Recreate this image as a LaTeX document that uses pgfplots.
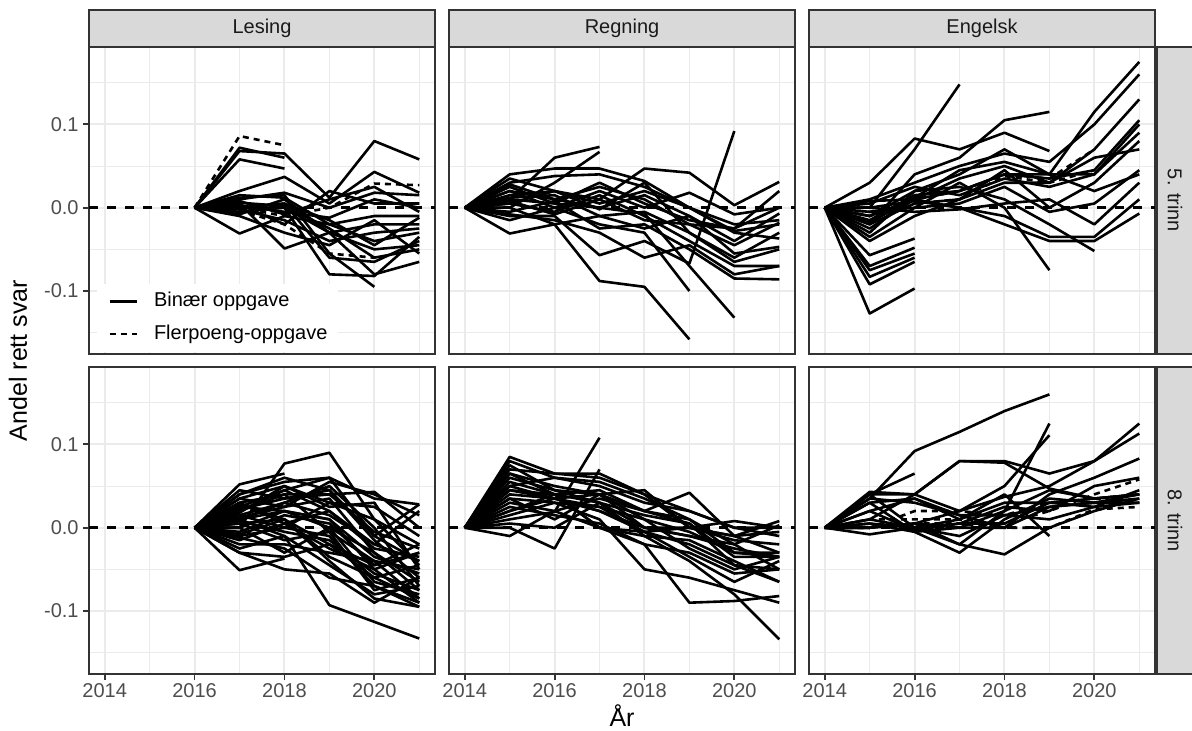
\documentclass[border=0pt]{standalone}
\usepackage{fontspec}
\setmainfont{Liberation Sans}
\usepackage{pgfplots}
\pgfplotsset{compat=1.18}
\definecolor{gridc}{HTML}{EBEBEB}
\definecolor{bordc}{HTML}{333333}
\definecolor{stripc}{HTML}{D9D9D9}
\definecolor{tickc}{HTML}{4D4D4D}
\definecolor{stript}{HTML}{1A1A1A}
\newcommand{\fs}[1]{\fontsize{#1}{#1}\selectfont}
\pgfplotsset{
  sl/.style={black, line width=1.3pt, forget plot, line join=round},
  dl/.style={sl, dash pattern=on 3pt off 2.5pt},
  zl/.style={black, line width=1.3pt, forget plot, dash pattern=on 4.5pt off 4.5pt},
  panel/.style={
    scale only axis, width=173pt, height=153.5pt, anchor=north west,
    xmin=2013.65, xmax=2021.35, ymin=-0.1756, ymax=0.1929,
    xtick={2014,2016,2018,2020}, minor xtick={2015,2017,2019,2021},
    ytick={-0.1,0,0.1}, minor ytick={-0.15,-0.05,0.05,0.15},
    xticklabels={}, yticklabels={},
    grid=both,
    major grid style={draw=gridc, line width=1pt},
    minor grid style={draw=gridc, line width=0.5pt},
    axis line style={draw=bordc, line width=0.9pt},
    tick align=outside, major tick length=3pt, minor tick length=0pt,
    tick style={draw=bordc, line width=0.9pt},
    tick pos=left,
    xtick style={draw=none}, ytick style={draw=none},
    xticklabel style={anchor=north, inner sep=0pt, font=\fs{10}, text=tickc, yshift=-1.5pt},
    yticklabel style={anchor=east, inner sep=0pt, font=\fs{10}, text=tickc, xshift=-2pt},
    clip=true,
  },
  leftcol/.style={yticklabels={-0.1,0.0,0.1}, ytick style={draw=bordc, line width=0.9pt}},
  botrow/.style={xticklabels={2014,2016,2018,2020}, xtick style={draw=bordc, line width=0.9pt}},
}
\begin{document}
\begin{tikzpicture}
% ---------------- Lesing, 5. trinn
\begin{axis}[panel, leftcol, at={(44.5pt,-23.5pt)},
  legend style={at={(0,0)}, anchor=south west, xshift=4pt, yshift=1pt, draw=none, fill=white,
    font=\fs{10}, inner xsep=5.5pt, inner ysep=4pt, row sep=7pt,
    nodes={inner sep=0pt, text height=7.3pt, text depth=2.1pt}},
  legend cell align=left,
  legend image code/.code={\draw[#1] (0pt,0pt) -- (13.5pt,0pt); \path (21.5pt,0pt);}]
\addplot[zl] coordinates {(2013.65,0)(2021.35,0)};
\addplot[sl] coordinates {(2016,0)(2017,0.072)(2018,0.060)};
\addplot[sl] coordinates {(2016,0)(2017,0.068)(2018,0.065)(2019,0.012)(2020,0.080)(2021,0.058)};
\addplot[sl] coordinates {(2016,0)(2017,0.058)(2018,0.047)};
\addplot[sl] coordinates {(2016,0)(2017,0.020)(2018,0.037)(2019,0.005)(2020,0.043)(2021,0.018)};
\addplot[sl] coordinates {(2016,0)(2017,-0.031)(2018,-0.010)(2019,-0.020)(2020,-0.040)(2021,-0.030)};
\addplot[sl] coordinates {(2016,0)(2017,0.005)(2018,-0.049)(2019,-0.030)(2020,-0.050)(2021,-0.045)};
\addplot[sl] coordinates {(2016,0)(2017,0.012)(2018,0.015)(2019,-0.055)(2020,-0.095)};
\addplot[sl] coordinates {(2016,0)(2017,0.000)(2018,0.005)(2019,-0.060)(2020,-0.065)(2021,-0.040)};
\addplot[sl] coordinates {(2016,0)(2017,-0.005)(2018,0.000)(2019,-0.030)(2020,-0.080)(2021,-0.065)};
\addplot[sl] coordinates {(2016,0)(2017,0.010)(2018,0.018)(2019,0.000)(2020,0.018)(2021,0.015)};
\addplot[sl] coordinates {(2016,0)(2017,0.003)(2018,-0.005)(2019,-0.012)(2020,0.010)(2021,0.000)};
\addplot[sl] coordinates {(2016,0)(2017,-0.008)(2018,0.010)(2019,-0.030)(2020,-0.020)(2021,-0.020)};
\addplot[sl] coordinates {(2016,0)(2017,0.015)(2018,0.012)(2019,-0.020)(2020,-0.010)(2021,-0.010)};
\addplot[sl] coordinates {(2016,0)(2017,-0.002)(2018,-0.015)(2019,-0.040)(2020,-0.030)(2021,-0.025)};
\addplot[sl] coordinates {(2016,0)(2017,0.006)(2018,0.002)(2019,-0.025)(2020,-0.060)(2021,-0.050)};
\addplot[sl] coordinates {(2016,0)(2017,0.000)(2018,0.000)(2019,-0.080)(2020,-0.082)(2021,-0.035)};
\addplot[sl] coordinates {(2016,0)(2017,0.004)(2018,-0.020)(2019,0.020)(2020,0.005)(2021,0.005)};
\addplot[sl] coordinates {(2016,0)(2017,-0.010)(2018,-0.030)(2019,-0.045)(2020,-0.015)(2021,-0.055)};
\addplot[sl] coordinates {(2016,0)(2017,0.000)(2018,0.005)(2019,-0.015)(2020,-0.045)(2021,-0.012)};
\addplot[sl] coordinates {(2016,0)(2017,0.008)(2018,-0.008)(2019,0.010)(2020,0.025)(2021,-0.005)};
\addplot[dl] coordinates {(2016,0)(2017,0.086)(2018,0.075)};
\addplot[dl] coordinates {(2016,0)(2017,-0.003)(2018,-0.020)(2019,-0.055)(2020,-0.060)};
\addplot[dl] coordinates {(2016,0)(2017,0.000)(2018,-0.010)(2019,0.000)(2020,0.029)(2021,0.027)};
\addlegendimage{black, line width=1.3pt}
\addlegendentry{Binær oppgave}
\addlegendimage{black, line width=1.3pt, dash pattern=on 3pt off 2.5pt}
\addlegendentry{Flerpoeng-oppgave}
\end{axis}
% ---------------- Regning, 5. trinn
\begin{axis}[panel, at={(224.5pt,-23.5pt)}]
\addplot[zl] coordinates {(2013.65,0)(2021.35,0)};
\addplot[sl] coordinates {(2014,0)(2015,0.010)(2016,0.060)(2017,0.073)};
\addplot[sl] coordinates {(2014,0)(2015,0.000)(2016,0.030)(2017,0.067)};
\addplot[sl] coordinates {(2014,0)(2015,0.040)(2016,0.047)(2017,0.047)(2018,0.032)(2019,0.000)(2020,-0.020)(2021,-0.015)};
\addplot[sl] coordinates {(2014,0)(2015,0.035)(2016,0.020)(2017,0.010)(2018,0.047)(2019,0.042)(2020,0.003)(2021,0.031)};
\addplot[sl] coordinates {(2014,0)(2015,-0.031)(2016,-0.020)(2017,-0.010)(2018,-0.005)(2019,-0.030)(2020,-0.065)(2021,-0.050)};
\addplot[sl] coordinates {(2014,0)(2015,0.000)(2016,-0.020)(2017,-0.088)(2018,-0.095)(2019,-0.158)};
\addplot[sl] coordinates {(2014,0)(2015,0.020)(2016,0.000)(2017,-0.020)(2018,-0.030)(2019,-0.100)};
\addplot[sl] coordinates {(2014,0)(2015,0.010)(2016,0.005)(2017,0.000)(2018,-0.007)(2019,-0.070)(2020,-0.132)};
\addplot[sl] coordinates {(2014,0)(2015,-0.010)(2016,-0.010)(2017,-0.057)(2018,-0.040)(2019,-0.067)(2020,0.092)};
\addplot[sl] coordinates {(2014,0)(2015,0.028)(2016,0.010)(2017,0.025)(2018,0.010)(2019,-0.020)(2020,-0.025)(2021,0.000)};
\addplot[sl] coordinates {(2014,0)(2015,0.015)(2016,0.020)(2017,0.005)(2018,0.020)(2019,0.000)(2020,-0.028)(2021,-0.020)};
\addplot[sl] coordinates {(2014,0)(2015,0.005)(2016,-0.005)(2017,0.015)(2018,-0.010)(2019,-0.040)(2020,-0.070)(2021,-0.070)};
\addplot[sl] coordinates {(2014,0)(2015,-0.005)(2016,0.008)(2017,-0.025)(2018,-0.020)(2019,-0.050)(2020,-0.085)(2021,-0.086)};
\addplot[sl] coordinates {(2014,0)(2015,0.030)(2016,0.038)(2017,0.040)(2018,0.025)(2019,0.000)(2020,-0.030)(2021,-0.037)};
\addplot[sl] coordinates {(2014,0)(2015,0.020)(2016,0.010)(2017,0.000)(2018,0.015)(2019,-0.010)(2020,-0.040)(2021,-0.007)};
\addplot[sl] coordinates {(2014,0)(2015,-0.015)(2016,0.000)(2017,0.020)(2018,0.000)(2019,0.018)(2020,-0.008)(2021,0.000)};
\addplot[sl] coordinates {(2014,0)(2015,0.012)(2016,0.015)(2017,-0.010)(2018,-0.025)(2019,-0.010)(2020,-0.055)(2021,-0.047)};
\addplot[sl] coordinates {(2014,0)(2015,-0.008)(2016,-0.015)(2017,-0.030)(2018,-0.060)(2019,-0.045)(2020,-0.080)(2021,-0.070)};
\addplot[sl] coordinates {(2014,0)(2015,0.025)(2016,0.005)(2017,0.030)(2018,0.005)(2019,-0.015)(2020,-0.025)(2021,0.020)};
\addplot[sl] coordinates {(2014,0)(2015,0.008)(2016,-0.008)(2017,0.010)(2018,-0.015)(2019,-0.020)(2020,-0.045)(2021,-0.018)};
\addplot[sl] coordinates {(2014,0)(2015,0.005)(2016,0.020)(2017,-0.002)(2018,0.030)(2019,-0.030)(2020,-0.060)(2021,-0.030)};
\end{axis}
% ---------------- Engelsk, 5. trinn
\begin{axis}[panel, at={(404.5pt,-23.5pt)}]
\addplot[zl] coordinates {(2013.65,0)(2021.35,0)};
\addplot[sl] coordinates {(2014,0)(2015,-0.127)(2016,-0.097)};
\addplot[sl] coordinates {(2014,0)(2015,-0.092)(2016,-0.065)};
\addplot[sl] coordinates {(2014,0)(2015,-0.075)(2016,-0.055)};
\addplot[sl] coordinates {(2014,0)(2015,-0.083)(2016,-0.060)};
\addplot[sl] coordinates {(2014,0)(2015,-0.057)(2016,-0.037)};
\addplot[sl] coordinates {(2014,0)(2015,-0.070)(2016,-0.048)};
\addplot[sl] coordinates {(2014,0)(2015,0.000)(2016,0.070)(2017,0.148)};
\addplot[sl] coordinates {(2014,0)(2015,0.030)(2016,0.083)(2017,0.070)(2018,0.090)(2019,0.068)};
\addplot[sl] coordinates {(2014,0)(2015,-0.020)(2016,0.040)(2017,0.060)(2018,0.105)(2019,0.115)};
\addplot[sl] coordinates {(2014,0)(2015,-0.035)(2016,0.000)(2017,0.030)(2018,0.000)(2019,-0.075)};
\addplot[sl] coordinates {(2014,0)(2015,-0.030)(2016,0.020)(2017,0.040)(2018,0.070)(2019,0.040)(2020,0.115)(2021,0.175)};
\addplot[sl] coordinates {(2014,0)(2015,0.010)(2016,0.030)(2017,0.050)(2018,0.065)(2019,0.055)(2020,0.100)(2021,0.160)};
\addplot[sl] coordinates {(2014,0)(2015,-0.010)(2016,0.010)(2017,0.035)(2018,0.050)(2019,0.030)(2020,0.070)(2021,0.130)};
\addplot[sl] coordinates {(2014,0)(2015,-0.015)(2016,0.015)(2017,0.020)(2018,0.040)(2019,0.035)(2020,0.045)(2021,0.105)};
\addplot[sl] coordinates {(2014,0)(2015,0.005)(2016,0.025)(2017,0.015)(2018,0.035)(2019,0.025)(2020,0.040)(2021,0.090)};
\addplot[sl] coordinates {(2014,0)(2015,-0.020)(2016,0.005)(2017,0.010)(2018,0.045)(2019,0.000)(2020,0.030)(2021,0.080)};
\addplot[sl] coordinates {(2014,0)(2015,-0.005)(2016,0.000)(2017,0.005)(2018,0.025)(2019,-0.005)(2020,0.005)(2021,0.045)};
\addplot[sl] coordinates {(2014,0)(2015,-0.025)(2016,0.010)(2017,0.000)(2018,-0.010)(2019,-0.035)(2020,-0.035)(2021,0.010)};
\addplot[sl] coordinates {(2014,0)(2015,0.000)(2016,0.008)(2017,0.000)(2018,-0.020)(2019,-0.040)(2020,-0.040)(2021,-0.007)};
\addplot[sl] coordinates {(2014,0)(2015,-0.010)(2016,0.020)(2017,0.025)(2018,0.010)(2019,-0.020)(2020,-0.052)};
\addplot[sl] coordinates {(2014,0)(2015,0.008)(2016,0.010)(2017,0.020)(2018,0.040)(2019,0.040)(2020,0.040)(2021,0.100)};
\addplot[sl] coordinates {(2014,0)(2015,-0.040)(2016,-0.010)(2017,0.010)(2018,0.030)(2019,0.030)(2020,0.060)(2021,0.070)};
\addplot[sl] coordinates {(2014,0)(2015,-0.018)(2016,0.012)(2017,0.045)(2018,0.055)(2019,0.040)(2020,0.020)(2021,0.040)};
\addplot[sl] coordinates {(2014,0)(2015,0.000)(2016,-0.005)(2017,-0.002)(2018,0.005)(2019,0.010)(2020,-0.020)(2021,0.030)};
\addplot[dl] coordinates {(2014,0)(2015,-0.010)(2016,0.010)(2017,0.020)(2018,0.040)(2019,0.035)(2020,0.070)};
\addplot[dl] coordinates {(2014,0)(2015,-0.005)(2016,0.005)(2017,0.010)(2018,0.038)(2019,0.030)(2020,0.045)};
\end{axis}
% ---------------- Lesing, 8. trinn
\begin{axis}[panel, leftcol, botrow, at={(44.5pt,-183.5pt)}]
\addplot[zl] coordinates {(2013.65,0)(2021.35,0)};
\addplot[sl] coordinates {(2016,0)(2017,0.052)(2018,0.065)};
\addplot[sl] coordinates {(2016,0)(2017,0.000)(2018,0.077)(2019,0.090)(2020,0.010)(2021,-0.020)};
\addplot[sl] coordinates {(2016,0)(2017,-0.051)(2018,-0.037)};
\addplot[sl] coordinates {(2016,0)(2017,0.040)(2018,0.055)(2019,0.060)(2020,0.035)(2021,0.028)};
\addplot[sl] coordinates {(2016,0)(2017,0.030)(2018,0.040)(2019,0.040)(2020,0.043)(2021,0.000)};
\addplot[sl] coordinates {(2016,0)(2017,-0.030)(2018,-0.050)(2019,-0.055)(2020,-0.090)(2021,-0.060)};
\addplot[sl] coordinates {(2016,0)(2017,0.010)(2018,-0.010)(2019,-0.093)(2020,-0.113)(2021,-0.133)};
\addplot[sl] coordinates {(2016,0)(2017,0.020)(2018,0.045)(2019,0.020)(2020,-0.020)(2021,0.020)};
\addplot[sl] coordinates {(2016,0)(2017,0.035)(2018,0.050)(2019,0.030)(2020,0.010)(2021,-0.045)};
\addplot[sl] coordinates {(2016,0)(2017,0.015)(2018,0.030)(2019,0.050)(2020,0.000)(2021,-0.070)};
\addplot[sl] coordinates {(2016,0)(2017,0.005)(2018,0.010)(2019,-0.020)(2020,-0.060)(2021,-0.085)};
\addplot[sl] coordinates {(2016,0)(2017,-0.010)(2018,0.000)(2019,-0.010)(2020,-0.070)(2021,-0.090)};
\addplot[sl] coordinates {(2016,0)(2017,0.025)(2018,0.020)(2019,0.010)(2020,-0.050)(2021,-0.030)};
\addplot[sl] coordinates {(2016,0)(2017,-0.020)(2018,-0.020)(2019,-0.030)(2020,-0.040)(2021,-0.050)};
\addplot[sl] coordinates {(2016,0)(2017,0.045)(2018,0.035)(2019,0.045)(2020,-0.010)(2021,-0.040)};
\addplot[sl] coordinates {(2016,0)(2017,0.012)(2018,0.025)(2019,0.035)(2020,-0.030)(2021,-0.065)};
\addplot[sl] coordinates {(2016,0)(2017,0.000)(2018,-0.030)(2019,0.000)(2020,-0.065)(2021,-0.080)};
\addplot[sl] coordinates {(2016,0)(2017,0.028)(2018,0.010)(2019,-0.040)(2020,-0.085)(2021,-0.095)};
\addplot[sl] coordinates {(2016,0)(2017,-0.005)(2018,0.015)(2019,0.005)(2020,-0.045)(2021,-0.020)};
\addplot[sl] coordinates {(2016,0)(2017,0.018)(2018,0.050)(2019,0.025)(2020,0.030)(2021,-0.050)};
\addplot[sl] coordinates {(2016,0)(2017,0.008)(2018,-0.005)(2019,-0.015)(2020,-0.055)(2021,-0.075)};
\addplot[sl] coordinates {(2016,0)(2017,-0.015)(2018,0.005)(2019,0.020)(2020,-0.025)(2021,-0.035)};
\addplot[sl] coordinates {(2016,0)(2017,0.035)(2018,0.025)(2019,0.055)(2020,0.040)(2021,0.015)};
\addplot[sl] coordinates {(2016,0)(2017,0.020)(2018,0.040)(2019,-0.005)(2020,-0.075)(2021,-0.060)};
\addplot[sl] coordinates {(2016,0)(2017,0.000)(2018,0.020)(2019,0.010)(2020,-0.035)(2021,-0.055)};
\addplot[sl] coordinates {(2016,0)(2017,-0.025)(2018,-0.010)(2019,-0.045)(2020,-0.080)(2021,-0.070)};
\addplot[sl] coordinates {(2016,0)(2017,0.010)(2018,0.030)(2019,0.015)(2020,-0.020)(2021,-0.040)};
\addplot[sl] coordinates {(2016,0)(2017,0.030)(2018,0.005)(2019,-0.025)(2020,-0.050)(2021,-0.090)};
\addplot[sl] coordinates {(2016,0)(2017,0.022)(2018,0.035)(2019,0.040)(2020,-0.005)(2021,-0.025)};
\addplot[sl] coordinates {(2016,0)(2017,0.005)(2018,-0.015)(2019,-0.005)(2020,-0.040)(2021,-0.085)};
\addplot[sl] coordinates {(2016,0)(2017,0.015)(2018,0.000)(2019,0.030)(2020,0.025)(2021,-0.010)};
\addplot[sl] coordinates {(2016,0)(2017,-0.008)(2018,0.010)(2019,-0.035)(2020,-0.060)(2021,-0.045)};
\addplot[sl] coordinates {(2016,0)(2017,0.040)(2018,0.060)(2019,0.045)(2020,-0.015)(2021,-0.060)};
\addplot[sl] coordinates {(2016,0)(2017,0.010)(2018,0.020)(2019,0.000)(2020,-0.030)(2021,-0.075)};
\addplot[sl] coordinates {(2016,0)(2017,-0.030)(2018,-0.035)(2019,-0.020)(2020,-0.045)(2021,-0.030)};
\addplot[sl] coordinates {(2016,0)(2017,0.025)(2018,0.045)(2019,0.060)(2020,-0.010)(2021,0.028)};
\addplot[sl] coordinates {(2016,0)(2017,-0.012)(2018,-0.025)(2019,-0.060)(2020,-0.070)(2021,-0.095)};
\end{axis}
% ---------------- Regning, 8. trinn
\begin{axis}[panel, botrow, at={(224.5pt,-183.5pt)}]
\addplot[zl] coordinates {(2013.65,0)(2021.35,0)};
\addplot[sl] coordinates {(2014,0)(2015,0.085)(2016,0.065)(2017,0.060)(2018,0.040)(2019,0.020)(2020,0.000)(2021,-0.010)};
\addplot[sl] coordinates {(2014,0)(2015,0.080)(2016,0.060)(2017,0.055)(2018,0.035)(2019,0.010)(2020,-0.030)(2021,-0.035)};
\addplot[sl] coordinates {(2014,0)(2015,0.070)(2016,0.065)(2017,0.065)(2018,0.040)(2019,0.000)(2020,-0.010)(2021,-0.030)};
\addplot[sl] coordinates {(2014,0)(2015,0.065)(2016,0.050)(2017,0.040)(2018,0.020)(2019,0.010)(2020,-0.020)(2021,-0.050)};
\addplot[sl] coordinates {(2014,0)(2015,0.055)(2016,0.040)(2017,0.030)(2018,0.015)(2019,0.005)(2020,-0.035)(2021,-0.035)};
\addplot[sl] coordinates {(2014,0)(2015,0.040)(2016,0.035)(2017,0.040)(2018,0.000)(2019,-0.010)(2020,-0.025)(2021,-0.035)};
\addplot[sl] coordinates {(2014,0)(2015,0.030)(2016,0.020)(2017,0.035)(2018,0.020)(2019,0.042)(2020,-0.010)(2021,0.008)};
\addplot[sl] coordinates {(2014,0)(2015,0.020)(2016,0.040)(2017,0.000)(2018,-0.010)(2019,-0.015)(2020,-0.040)(2021,-0.065)};
\addplot[sl] coordinates {(2014,0)(2015,0.010)(2016,0.019)(2017,0.108)};
\addplot[sl] coordinates {(2014,0)(2015,0.000)(2016,-0.025)(2017,0.070)};
\addplot[sl] coordinates {(2014,0)(2015,0.045)(2016,0.040)(2017,0.000)(2018,-0.020)(2019,-0.090)(2020,-0.088)(2021,-0.082)};
\addplot[sl] coordinates {(2014,0)(2015,0.035)(2016,0.030)(2017,0.010)(2018,-0.050)(2019,-0.060)(2020,-0.075)(2021,-0.090)};
\addplot[sl] coordinates {(2014,0)(2015,0.005)(2016,0.000)(2017,0.030)(2018,-0.010)(2019,-0.040)(2020,-0.080)(2021,-0.134)};
\addplot[sl] coordinates {(2014,0)(2015,0.060)(2016,0.045)(2017,0.040)(2018,0.010)(2019,-0.005)(2020,-0.030)(2021,-0.030)};
\addplot[sl] coordinates {(2014,0)(2015,0.050)(2016,0.035)(2017,0.020)(2018,0.000)(2019,0.000)(2020,0.008)(2021,0.000)};
\addplot[sl] coordinates {(2014,0)(2015,-0.010)(2016,0.020)(2017,0.000)(2018,-0.005)(2019,-0.020)(2020,-0.045)(2021,-0.050)};
\addplot[sl] coordinates {(2014,0)(2015,0.045)(2016,0.035)(2017,0.025)(2018,-0.005)(2019,0.000)(2020,-0.010)(2021,-0.005)};
\addplot[sl] coordinates {(2014,0)(2015,0.025)(2016,0.015)(2017,0.005)(2018,-0.020)(2019,-0.030)(2020,-0.055)(2021,-0.050)};
\addplot[sl] coordinates {(2014,0)(2015,0.065)(2016,0.040)(2017,0.045)(2018,0.020)(2019,0.005)(2020,-0.045)(2021,-0.065)};
\addplot[sl] coordinates {(2014,0)(2015,0.075)(2016,0.045)(2017,0.030)(2018,0.000)(2019,-0.010)(2020,-0.020)(2021,0.003)};
\addplot[sl] coordinates {(2014,0)(2015,0.015)(2016,0.030)(2017,0.025)(2018,0.010)(2019,-0.025)(2020,-0.050)(2021,-0.035)};
\addplot[sl] coordinates {(2014,0)(2015,0.035)(2016,0.010)(2017,0.040)(2018,0.045)(2019,0.000)(2020,-0.015)(2021,-0.020)};
\addplot[sl] coordinates {(2014,0)(2015,0.020)(2016,0.035)(2017,0.020)(2018,-0.005)(2019,-0.035)(2020,-0.065)(2021,-0.040)};
\addplot[sl] coordinates {(2014,0)(2015,0.050)(2016,0.060)(2017,0.050)(2018,0.030)(2019,0.020)(2020,0.000)(2021,0.000)};
\end{axis}
% ---------------- Engelsk, 8. trinn
\begin{axis}[panel, botrow, at={(404.5pt,-183.5pt)}]
\addplot[zl] coordinates {(2013.65,0)(2021.35,0)};
\addplot[sl] coordinates {(2014,0)(2015,0.035)(2016,0.092)(2017,0.115)(2018,0.140)(2019,0.160)};
\addplot[sl] coordinates {(2014,0)(2015,0.040)(2016,0.065)};
\addplot[sl] coordinates {(2014,0)(2015,0.043)(2016,0.040)(2017,0.080)(2018,0.080)(2019,0.065)(2020,0.080)(2021,0.125)};
\addplot[sl] coordinates {(2014,0)(2015,0.010)(2016,0.040)(2017,0.080)(2018,0.078)(2019,0.047)(2020,0.035)(2021,0.040)};
\addplot[sl] coordinates {(2014,0)(2015,0.040)(2016,0.040)(2017,0.020)(2018,0.037)(2019,0.050)(2020,0.080)(2021,0.113)};
\addplot[sl] coordinates {(2014,0)(2015,0.000)(2016,0.005)(2017,0.020)(2018,0.050)(2019,0.111)};
\addplot[sl] coordinates {(2014,0)(2015,0.005)(2016,0.000)(2017,-0.020)(2018,0.020)(2019,0.125)};
\addplot[sl] coordinates {(2014,0)(2015,0.000)(2016,0.005)(2017,0.000)(2018,0.000)(2019,0.040)(2020,0.060)(2021,0.083)};
\addplot[sl] coordinates {(2014,0)(2015,0.030)(2016,0.035)(2017,0.010)(2018,0.030)(2019,0.030)(2020,0.035)(2021,0.040)};
\addplot[sl] coordinates {(2014,0)(2015,0.035)(2016,0.030)(2017,0.015)(2018,0.015)(2019,0.025)(2020,0.030)(2021,0.040)};
\addplot[sl] coordinates {(2014,0)(2015,0.005)(2016,-0.005)(2017,-0.030)(2018,0.010)(2019,0.035)(2020,0.030)(2021,0.035)};
\addplot[sl] coordinates {(2014,0)(2015,0.000)(2016,0.005)(2017,-0.020)(2018,-0.032)(2019,0.000)(2020,0.020)(2021,0.035)};
\addplot[sl] coordinates {(2014,0)(2015,-0.008)(2016,0.000)(2017,-0.010)(2018,0.015)(2019,0.010)(2020,0.025)(2021,0.030)};
\addplot[sl] coordinates {(2014,0)(2015,0.020)(2016,-0.003)(2017,0.005)(2018,0.025)(2019,0.020)(2020,0.050)(2021,0.060)};
\addplot[sl] coordinates {(2014,0)(2015,0.010)(2016,0.000)(2017,0.010)(2018,0.040)(2019,-0.010)};
\addplot[sl] coordinates {(2014,0)(2015,0.020)(2016,0.035)(2017,0.015)(2018,0.000)(2019,0.025)(2020,0.030)(2021,0.030)};
\addplot[sl] coordinates {(2014,0)(2015,0.040)(2016,0.000)(2017,0.005)(2018,0.005)(2019,0.030)(2020,0.025)(2021,0.045)};
\addplot[sl] coordinates {(2014,0)(2015,0.030)(2016,-0.005)(2017,0.000)(2018,0.020)(2019,0.045)(2020,0.035)(2021,0.040)};
\addplot[dl] coordinates {(2014,0)(2015,0.000)(2016,0.020)(2017,0.020)(2018,0.015)(2019,0.030)(2020,0.035)(2021,0.030)};
\addplot[dl] coordinates {(2014,0)(2015,0.000)(2016,0.005)(2017,0.005)(2018,0.000)(2019,0.000)(2020,0.022)(2021,0.025)};
\addplot[dl] coordinates {(2014,0)(2015,0.010)(2016,0.010)(2017,0.010)(2018,0.005)(2019,0.020)(2020,0.040)(2021,0.058)};
\end{axis}
% ---------------- strips
\begin{scope}[every node/.style={font=\fs{10}, text=stript}]
\draw[fill=stripc, draw=bordc, line width=0.9pt] (44.5pt,-5pt) rectangle (217.5pt,-23.5pt);
\node at (131pt,-14.25pt) {Lesing};
\draw[fill=stripc, draw=bordc, line width=0.9pt] (224.5pt,-5pt) rectangle (397.5pt,-23.5pt);
\node at (311pt,-14.25pt) {Regning};
\draw[fill=stripc, draw=bordc, line width=0.9pt] (404.5pt,-5pt) rectangle (577.5pt,-23.5pt);
\node at (491pt,-14.25pt) {Engelsk};
\draw[fill=stripc, draw=bordc, line width=0.9pt] (578.5pt,-23.5pt) rectangle (597pt,-177pt);
\node[rotate=-90] at (587.5pt,-100.25pt) {5. trinn};
\draw[fill=stripc, draw=bordc, line width=0.9pt] (578.5pt,-183.5pt) rectangle (597pt,-337pt);
\node[rotate=-90] at (587.5pt,-260.25pt) {8. trinn};
\end{scope}
% ---------------- axis titles
\node[font=\fs{12.5}, rotate=90] at (9pt,-180.25pt) {Andel rett svar};
\node[font=\fs{12.5}] at (311pt,-358pt) {År};
\pgfresetboundingbox
\useasboundingbox (0,0) rectangle (596pt,-365.5pt);
\end{tikzpicture}
\end{document}
